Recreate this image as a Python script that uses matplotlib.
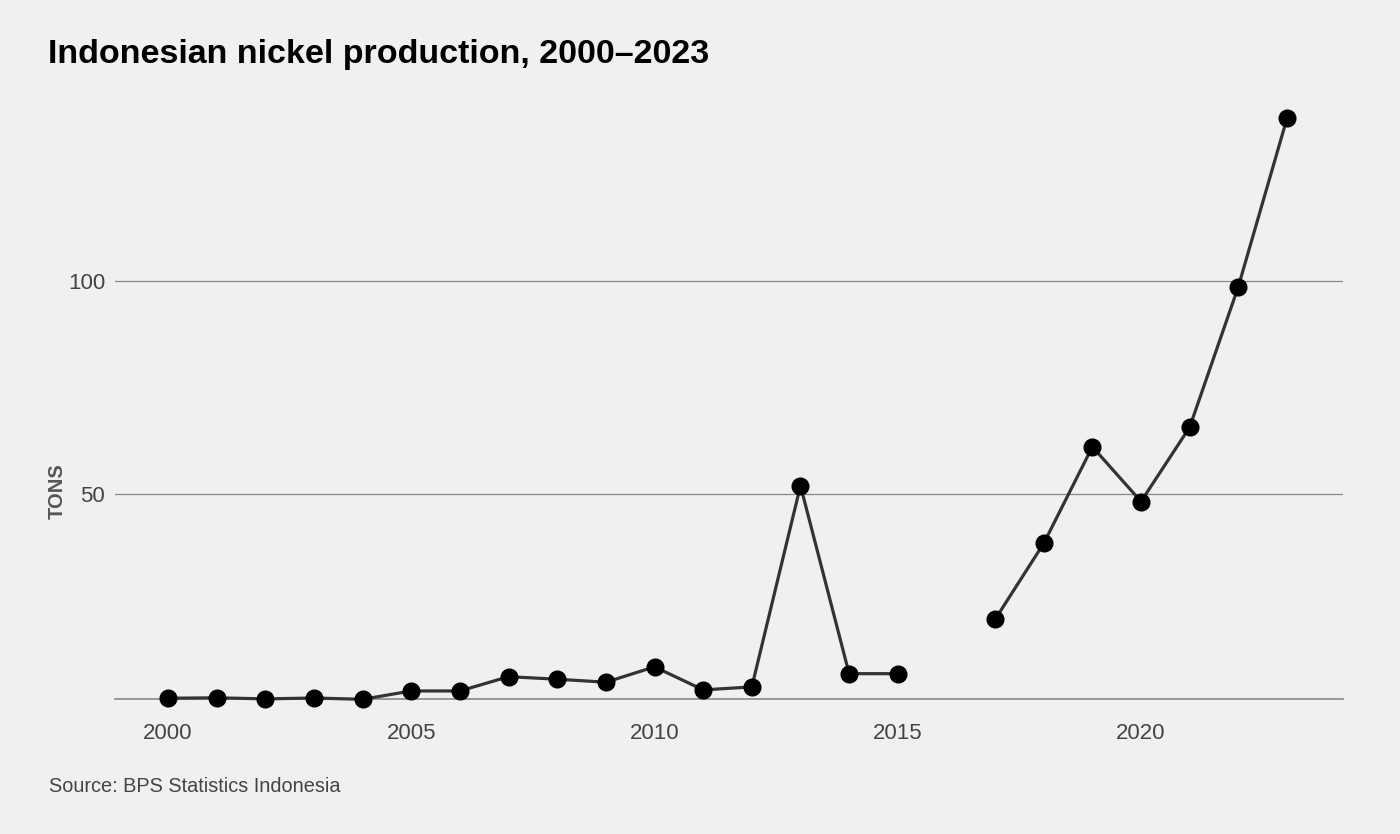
import numpy as np
import matplotlib
matplotlib.use("Agg")
import matplotlib.pyplot as plt

years = list(range(2000, 2024))
production = [2.25, 2.35, 2.1, 2.3, 2.0, 3.95, 3.95, 7.3, 6.7, 6.0, 9.6, 4.2, 4.9,
              52.0, 8.0, 8.0, np.nan, 20.7, 38.5, 61.1, 48.3, 65.7, 98.6, 138.0]
x_ticks = [2000, 2005, 2010, 2015, 2020]
y_ticks = [50, 100]

title = "Indonesian nickel production, 2000\u20132023"
y_label = "TONS"
source = "Source: BPS Statistics Indonesia"

plt.rcParams['font.family'] = ['Liberation Sans', 'DejaVu Sans']
bg = "#f0f0f0"
W, H = 1400, 834
fig = plt.figure(figsize=(W / 100, H / 100), dpi=100, facecolor=bg)

left_px, right_px, top_px, bottom_px = 115, 1343, 100, 699.3
ax = fig.add_axes([left_px / W, 1 - bottom_px / H, (right_px - left_px) / W, (bottom_px - top_px) / H])
ax.set_facecolor(bg)

y0 = 2.0
px_per_unit = 4.272
ax.set_ylim(y0, y0 + (bottom_px - top_px) / px_per_unit)
ax.set_xlim(2000 - 53 / 48.65, 2023 + 56 / 48.65)

for s in ax.spines.values():
    s.set_visible(False)
ax.axhline(y0, color="#888888", lw=1.2, zorder=1, clip_on=False)
for v in y_ticks:
    ax.axhline(v, color="#888888", lw=0.9, zorder=1)

ax.plot(years, production, color="#333333", lw=2.3, zorder=3, clip_on=False,
        marker="o", markersize=12, markerfacecolor="black", markeredgecolor="black")

ax.set_xticks(x_ticks)
ax.set_xticklabels([str(t) for t in x_ticks])
ax.set_yticks(y_ticks)
ax.set_yticklabels([str(t) for t in y_ticks])
ax.tick_params(axis="both", length=0, labelsize=16, labelcolor="#444444")
ax.tick_params(axis="x", pad=17)
ax.tick_params(axis="y", pad=7)

fig.text(57 / W, 1 - 491 / H, y_label, rotation=90, ha="center", va="center",
         fontsize=14.5, fontweight="bold", color="#555555")
fig.text(48 / W, 1 - 54 / H, title, ha="left", va="center",
         fontsize=24.5, fontweight="bold", color="black")
fig.text(49 / W, 1 - 787 / H, source, ha="left", va="center",
         fontsize=14.3, color="#444444")

fig.savefig("out.png", dpi=100, facecolor=bg)
